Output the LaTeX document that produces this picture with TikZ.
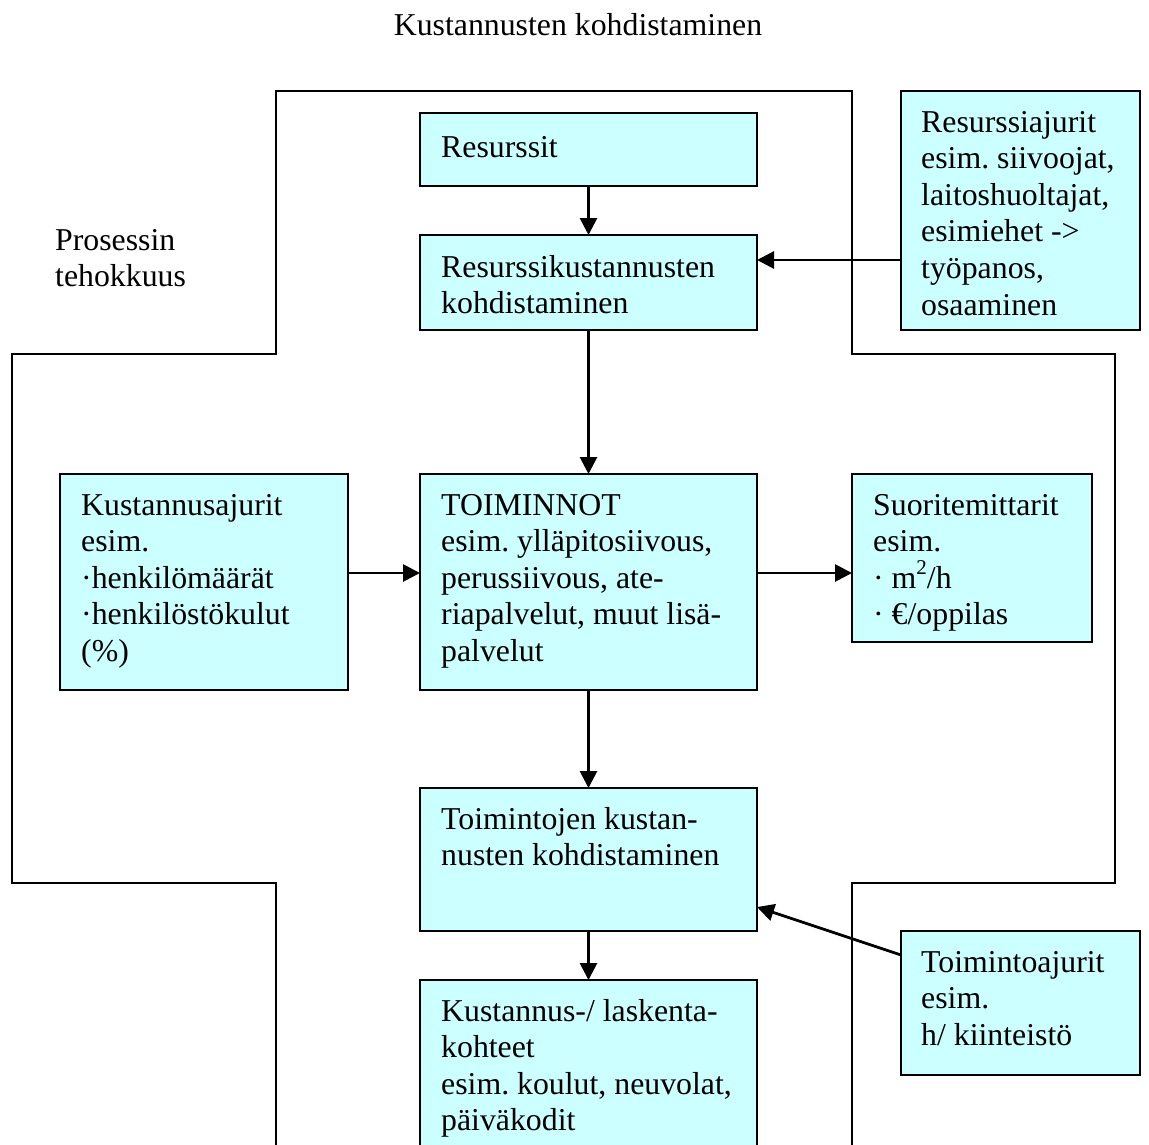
\documentclass[tikz,border=0pt]{standalone}
\usepackage{fontspec}
\setmainfont{Liberation Serif}
\usetikzlibrary{arrows.meta,calc}
\definecolor{boxfill}{HTML}{CCFFFF}
\frenchspacing
\newcommand\txtlines[1]{\begin{tabular}[t]{@{}l@{}}#1\end{tabular}}
\newcommand\supnum[1]{\smash{\raisebox{0.42em}{\fontsize{21}{21}\selectfont #1}}}
\tikzset{
  box/.style={draw=black, line width=2pt, fill=boxfill, inner sep=0pt, outer sep=0pt, anchor=north west},
  txt/.style={anchor=base west, inner sep=0pt},
  arr/.style={line width=2.8pt, -{Triangle[length=17pt,width=17pt]}},
  outline/.style={line width=2.5pt, line join=miter},
}
\begin{document}
\begin{tikzpicture}[x=1pt, y=-1pt, font=\fontsize{31.8}{36.6}\selectfont]
  \clip (0,0) rectangle (1149,1144);
  \fill[white] (0,0) rectangle (1149,1144);

  % title
  \node[anchor=base, inner sep=0pt] (title) at (578,35) {Kustannusten kohdistaminen};

  % cross-shaped outline of the process area
  \draw[outline] (852,1170) -- (852,883) -- (1115,883) -- (1115,354) -- (852,354)
    -- (852,91) -- (276,91) -- (276,354) -- (12,354) -- (12,883) -- (276,883) -- (276,1170);

  \node[txt] (proc) at (55,250) {\txtlines{Prosessin\\tehokkuus}};

  % boxes
  \node[box, minimum width=337pt, minimum height=73pt]  (res)    at (420,113) {};
  \node[box, minimum width=337pt, minimum height=95pt]  (reskust) at (420,235) {};
  \node[box, minimum width=239pt, minimum height=239pt] (rdrv)   at (901,91) {};
  \node[box, minimum width=337pt, minimum height=216pt] (toim)   at (420,474) {};
  \node[box, minimum width=288pt, minimum height=216pt] (kdrv)   at (60,474) {};
  \node[box, minimum width=240pt, minimum height=168pt] (suor)   at (852,474) {};
  \node[box, minimum width=337pt, minimum height=143pt] (tkust)  at (420,788) {};
  \node[box, minimum width=239pt, minimum height=144pt] (tdrv)   at (901,931) {};
  \node[box, minimum width=337pt, minimum height=220pt] (kohde)  at (420,980) {};

  % box texts
  \node[txt] (res-t)     at ($(res.north west)+(21,44)$) {Resurssit};
  \node[txt] (reskust-t) at ($(reskust.north west)+(21,42)$) {\txtlines{Resurssikustannusten\\kohdistaminen}};
  \node[txt] (rdrv-t)    at ($(rdrv.north west)+(20,41)$) {\txtlines{Resurssiajurit\\esim. siivoojat,\\laitoshuoltajat,\\esimiehet ->\\työpanos,\\osaaminen}};
  \node[txt] (toim-t)    at ($(toim.north west)+(21,41)$) {\txtlines{TOIMINNOT\\esim. ylläpitosiivous,\\perussiivous, ate-\\riapalvelut, muut lisä-\\palvelut}};
  \node[txt] (kdrv-t)    at ($(kdrv.north west)+(21,41)$) {\txtlines{Kustannusajurit\\esim.\\·henkilömäärät\\·henkilöstökulut\\(\%)}};
  \node[txt] (suor-t)    at ($(suor.north west)+(21,41)$) {\txtlines{Suoritemittarit\\esim.\\· m\supnum{2}/h\\· €/oppilas}};
  \node[txt] (tkust-t)   at ($(tkust.north west)+(21,41)$) {\txtlines{Toimintojen kustan-\\nusten kohdistaminen}};
  \node[txt] (tdrv-t)    at ($(tdrv.north west)+(20,41)$) {\txtlines{Toimintoajurit\\esim.\\h/ kiinteistö}};
  \node[txt] (kohde-t)   at ($(kohde.north west)+(21,41)$) {\txtlines{Kustannus-/ laskenta-\\kohteet\\esim. koulut, neuvolat,\\päiväkodit}};

  % connectors
  \draw[arr] (res.south) -- (reskust.north);
  \draw[arr] (reskust.south) -- (toim.north);
  \draw[arr] (toim.south) -- (tkust.north);
  \draw[arr] (tkust.south) -- (kohde.north);
  \draw[arr] (rdrv.west |- 0,260) -- (reskust.east |- 0,260);
  \draw[arr] (kdrv.east |- 0,573) -- (toim.west |- 0,573);
  \draw[arr] (toim.east |- 0,573) -- (suor.west |- 0,573);
  \draw[arr] (tdrv.west |- 0,955) -- (tkust.east |- 0,907);
\end{tikzpicture}
\end{document}
